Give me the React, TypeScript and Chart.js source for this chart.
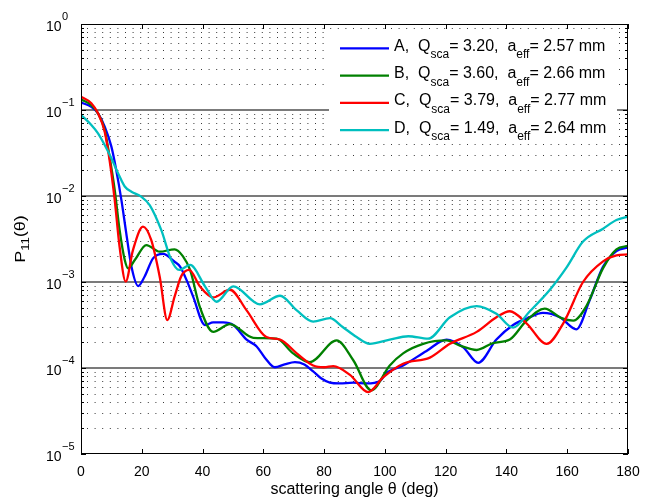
import React, { useEffect, useRef } from "react";
import { Chart, registerables } from "chart.js";

Chart.register(...registerables);

// ---- data ----
const angleA = [0, 3.4, 5.6, 7.8, 10, 11.6, 13.3, 14.9, 16.6, 18.8, 20.9, 23.7, 27, 30.8, 32.6, 35.2, 36.9, 40.8, 43.5, 46.8, 50.1, 54.5, 57.8, 60.5, 63.8, 67, 70.4, 73.5, 76.4, 79, 81.9, 85, 89.6, 94, 98.4, 100.5, 106, 113.7, 120.3, 125.8, 130.7, 136.7, 142.2, 147, 152, 157.6, 163, 167.4, 171.8, 176.2, 180];
const valA = [1.22e-1, 1.09e-1, 9.14e-2, 6.40e-2, 3.75e-2, 2.00e-2, 8.97e-3, 3.68e-3, 1.51e-3, 8.97e-4, 1.15e-3, 1.88e-3, 2.12e-3, 1.72e-3, 1.51e-3, 9.64e-4, 6.76e-4, 3.16e-4, 3.39e-4, 3.39e-4, 3.16e-4, 2.14e-4, 1.78e-4, 1.32e-4, 1.02e-4, 1.10e-4, 1.17e-4, 1.10e-4, 9.12e-5, 7.59e-5, 6.76e-5, 6.61e-5, 6.76e-5, 6.61e-5, 7.08e-5, 8.71e-5, 1.07e-4, 1.58e-4, 2.14e-4, 1.74e-4, 1.15e-4, 2.14e-4, 3.16e-4, 3.80e-4, 4.37e-4, 3.89e-4, 2.82e-4, 6.17e-4, 1.51e-3, 2.29e-3, 2.51e-3];

const angleB = [0, 3.4, 5.6, 7.8, 9.4, 11.1, 12.7, 14.4, 15.5, 17.7, 21.5, 25.9, 30.8, 33.5, 35.9, 39.1, 43.5, 49, 56.7, 64.4, 69.8, 75.3, 84.1, 89.6, 95.5, 101.6, 106, 112.6, 120.3, 124.7, 130.2, 135.6, 141.1, 146.6, 152.6, 158.1, 162, 166.3, 171.8, 176.2, 180];
const valB = [1.33e-1, 1.14e-1, 9.14e-2, 5.85e-2, 2.86e-2, 1.17e-2, 4.03e-3, 1.80e-3, 1.44e-3, 1.80e-3, 2.69e-3, 2.25e-3, 2.40e-3, 2.00e-3, 1.38e-3, 5.13e-4, 2.63e-4, 3.24e-4, 2.24e-4, 2.19e-4, 1.48e-4, 1.17e-4, 2.09e-4, 1.23e-4, 5.50e-5, 1.07e-4, 1.48e-4, 1.91e-4, 2.09e-4, 1.82e-4, 1.62e-4, 1.95e-4, 2.14e-4, 3.55e-4, 4.90e-4, 3.80e-4, 3.55e-4, 5.25e-4, 1.45e-3, 2.40e-3, 2.63e-3];

const angleC = [0, 3.4, 5.6, 7.8, 9.4, 11.1, 12.7, 14.7, 17.1, 20.4, 23.1, 25.9, 28.4, 30.8, 33, 35.6, 39.1, 43.5, 49, 54.5, 61, 65.5, 71, 76.4, 80, 83, 88.5, 94.5, 99.4, 106, 114.8, 121.4, 130.2, 136.7, 141.1, 146.6, 153.2, 158.7, 165.2, 171.8, 176.2, 180];
const valC = [1.43e-1, 1.20e-1, 9.14e-2, 5.60e-2, 2.62e-2, 8.97e-3, 2.57e-3, 1.01e-3, 2.35e-3, 4.40e-3, 3.08e-3, 1.15e-3, 3.61e-4, 6.75e-4, 1.17e-3, 1.38e-3, 8.91e-4, 6.61e-4, 8.13e-4, 4.68e-4, 2.29e-4, 2.14e-4, 1.48e-4, 1.07e-4, 1.02e-4, 1.05e-4, 8.32e-5, 5.25e-5, 7.76e-5, 1.12e-4, 1.32e-4, 1.91e-4, 2.63e-4, 3.89e-4, 4.57e-4, 3.31e-4, 1.91e-4, 3.31e-4, 1.00e-3, 1.74e-3, 2.04e-3, 2.09e-3];

const angleD = [0, 3.4, 5.6, 7.8, 10, 12.2, 14.4, 16.6, 19.8, 22.6, 26.4, 29.7, 32.3, 35.9, 40.8, 44.6, 50.1, 58.9, 65.5, 71, 76.4, 81.9, 86, 90.7, 95, 101.6, 107.7, 114.2, 121.4, 130.2, 136.7, 142.2, 147.7, 154.3, 159.8, 165.2, 171.8, 176.2, 180];
const valD = [8.75e-2, 6.70e-2, 5.36e-2, 3.92e-2, 2.74e-2, 1.84e-2, 1.29e-2, 1.12e-2, 9.82e-3, 7.85e-3, 4.03e-3, 1.80e-3, 1.38e-3, 1.58e-3, 8.91e-4, 5.89e-4, 8.91e-4, 5.50e-4, 6.92e-4, 4.68e-4, 3.47e-4, 3.80e-4, 3.02e-4, 2.29e-4, 1.91e-4, 2.14e-4, 2.34e-4, 2.19e-4, 3.89e-4, 5.25e-4, 4.27e-4, 2.95e-4, 4.57e-4, 8.13e-4, 1.48e-3, 2.95e-3, 4.17e-3, 5.25e-3, 5.75e-3];

const seriesNames = ["A", "B", "C", "D"];
const qsca = ["3.20", "3.60", "3.79", "1.49"];
const aeff = ["2.57", "2.66", "2.77", "2.64"];
const seriesColors = ["#0000ff", "#008000", "#ff0000", "#00bfbf"];

const xTickValues = [0, 20, 40, 60, 80, 100, 120, 140, 160, 180];
const yDecades = [0, -1, -2, -3, -4, -5];
const xTitle = "scattering angle θ (deg)";

const FONT = '"Liberation Sans", Arial, Helvetica, sans-serif';

const angles = [angleA, angleB, angleC, angleD];
const values = [valA, valB, valC, valD];

function drawParts(ctx: CanvasRenderingContext2D, parts: { t: string; sub?: boolean }[], x: number, y: number, main: number, sub: number, subDy: number) {
  let cx = x;
  for (const p of parts) {
    ctx.font = `${p.sub ? sub : main}px ${FONT}`;
    ctx.fillText(p.t, cx, y + (p.sub ? subDy : 0));
    cx += ctx.measureText(p.t).width;
  }
  return cx;
}

const matlabPlugin = {
  id: "matlabLook",
  beforeDatasetsDraw(chart: any) {
    const { ctx, chartArea: ca } = chart;
    const y = chart.scales.y;
    ctx.save();
    // minor dotted grid
    ctx.strokeStyle = "#3a3a3a";
    ctx.lineWidth = 1;
    ctx.setLineDash([1, 6.6]);
    ctx.beginPath();
    for (let d = -5; d < 0; d++) {
      for (let m = 2; m <= 9; m++) {
        const py = Math.round(y.getPixelForValue(m * Math.pow(10, d))) + 0.5;
        ctx.moveTo(ca.left + 6, py);
        ctx.lineTo(ca.right, py);
      }
    }
    ctx.stroke();
    // major solid grid
    ctx.setLineDash([]);
    ctx.strokeStyle = "#505050";
    ctx.lineWidth = 1.4;
    ctx.beginPath();
    for (const d of yDecades) {
      if (d === 0 || d === -5) continue;
      const py = y.getPixelForValue(Math.pow(10, d));
      ctx.moveTo(ca.left, py);
      ctx.lineTo(ca.right, py);
    }
    ctx.stroke();
    ctx.restore();
  },
  afterDatasetsDraw(chart: any) {
    const { ctx, chartArea: ca } = chart;
    const x = chart.scales.x;
    const y = chart.scales.y;
    ctx.save();

    // legend box
    const lx = ca.left + 248;
    const ly = ca.top + 8;
    ctx.fillStyle = "#ffffff";
    ctx.fillRect(lx, ly, 288, 110);
    for (let i = 0; i < seriesNames.length; i++) {
      const rowY = ca.top + 24.3 + i * 27.3;
      ctx.strokeStyle = seriesColors[i];
      ctx.lineWidth = 2.3;
      ctx.beginPath();
      ctx.moveTo(lx + 11, rowY);
      ctx.lineTo(lx + 60, rowY);
      ctx.stroke();
      ctx.fillStyle = "#000";
      ctx.textAlign = "left";
      ctx.textBaseline = "alphabetic";
      drawParts(
        ctx,
        [
          { t: `${seriesNames[i]},  Q` },
          { t: "sca", sub: true },
          { t: `= ${qsca[i]},  a` },
          { t: "eff", sub: true },
          { t: `= ${aeff[i]} mm` },
        ],
        lx + 65,
        rowY + 2.5,
        16,
        12,
        7.5
      );
    }

    // axes box
    ctx.strokeStyle = "#000";
    ctx.lineWidth = 1;
    ctx.strokeRect(ca.left + 0.5, ca.top + 0.5, ca.right - ca.left - 1, ca.bottom - ca.top - 1);

    // x ticks (bottom and top, inward)
    ctx.beginPath();
    for (const v of xTickValues) {
      const px = Math.round(x.getPixelForValue(v)) + 0.5;
      ctx.moveTo(px, ca.bottom);
      ctx.lineTo(px, ca.bottom - 5);
      ctx.moveTo(px, ca.top);
      ctx.lineTo(px, ca.top + 5);
    }
    // y ticks (left and right, inward)
    for (let d = -5; d <= 0; d++) {
      for (let m = 1; m <= 9; m++) {
        if (d === 0 && m > 1) break;
        const py = Math.round(y.getPixelForValue(m * Math.pow(10, d))) + 0.5;
        const len = m === 1 ? 5 : 3;
        ctx.moveTo(ca.left, py);
        ctx.lineTo(ca.left + len, py);
        ctx.moveTo(ca.right, py);
        ctx.lineTo(ca.right - len, py);
      }
    }
    ctx.stroke();

    // y tick labels 10^n
    ctx.fillStyle = "#000";
    ctx.textAlign = "left";
    ctx.textBaseline = "alphabetic";
    for (const d of yDecades) {
      const py = y.getPixelForValue(Math.pow(10, d));
      const bx = ca.left - 35;
      ctx.font = `14px ${FONT}`;
      ctx.fillText("10", bx, py + 7);
      const w = ctx.measureText("10").width;
      ctx.font = `11px ${FONT}`;
      ctx.fillText(d === 0 ? "0" : "\u2212" + Math.abs(d), bx + w + 0.5, py - 4.5);
    }

    // y title P11(θ)
    ctx.save();
    const cy = (ca.top + ca.bottom) / 2;
    ctx.translate(25, cy);
    ctx.rotate(-Math.PI / 2);
    ctx.scale(1.2, 1);
    ctx.font = `15px ${FONT}`;
    const p1 = ctx.measureText("P").width;
    ctx.font = `11px ${FONT}`;
    const p2 = ctx.measureText("11").width;
    ctx.font = `15px ${FONT}`;
    const p3 = ctx.measureText("(θ)").width;
    const total = p1 + p2 + p3;
    drawParts(ctx, [{ t: "P" }, { t: "11", sub: true }, { t: "(θ)" }], -total / 2, 0, 15, 11, 4);
    ctx.restore();

    // x title
    ctx.font = `16px ${FONT}`;
    ctx.textAlign = "center";
    ctx.fillText(xTitle, (ca.left + ca.right) / 2, 494);

    ctx.restore();
  },
};

export default function App() {
  const canvasRef = useRef<HTMLCanvasElement | null>(null);

  useEffect(() => {
    const canvas = canvasRef.current;
    if (!canvas) return;
    const datasets = angles.map((ang, i) => ({
      label: seriesNames[i],
      data: ang.map((a, j) => ({ x: a, y: values[i][j] })),
      borderColor: seriesColors[i],
      backgroundColor: seriesColors[i],
      borderWidth: 2.3,
      pointRadius: 0,
      fill: false,
      cubicInterpolationMode: "monotone" as const,
      order: seriesNames.length - i,
    }));
    const chart = new Chart(canvas, {
      type: "line",
      data: { datasets },
      plugins: [matlabPlugin],
      options: {
        animation: false,
        responsive: false,
        maintainAspectRatio: false,
        layout: { padding: { top: 24, right: 25, left: 0, bottom: 0 } },
        plugins: { legend: { display: false }, tooltip: { enabled: false } },
        scales: {
          x: {
            type: "linear",
            min: 0,
            max: 180,
            afterBuildTicks: (s: any) => {
              s.ticks = xTickValues.map((v) => ({ value: v }));
            },
            afterFit: (s: any) => {
              s.height = 45;
            },
            ticks: {
              font: { family: FONT, size: 14 },
              color: "#000",
              padding: 10,
              maxRotation: 0,
              autoSkip: false,
            },
            grid: { display: false, drawTicks: false },
            border: { display: false },
          },
          y: {
            type: "logarithmic",
            min: 1e-5,
            max: 1,
            afterFit: (s: any) => {
              s.width = 81;
            },
            ticks: { display: false },
            grid: { display: false, drawTicks: false },
            border: { display: false },
          },
        },
      },
    });
    return () => chart.destroy();
  }, []);

  return (
    <div style={{ position: "absolute", left: 0, top: 0, width: 653, height: 499, background: "#fff" }}>
      <canvas ref={canvasRef} width={653} height={499} style={{ width: 653, height: 499, display: "block" }} />
    </div>
  );
}
